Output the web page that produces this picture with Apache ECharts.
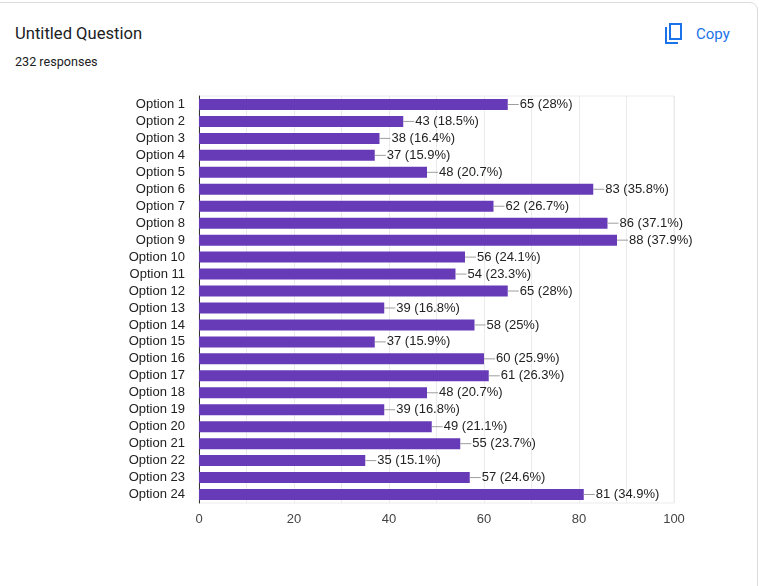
<!DOCTYPE html>
<html><head><meta charset="utf-8">
<script src="https://cdn.jsdelivr.net/npm/echarts@6/dist/echarts.min.js"></script>
<style>
html,body{margin:0;padding:0;width:759px;height:586px;overflow:hidden;background:#fff;}
#card{position:absolute;left:-20px;top:2px;right:1px;bottom:-20px;border:1px solid #dadce0;border-radius:8px;background:#fff;}
#title{position:absolute;left:15px;top:24px;font-family:Roboto,Arial,sans-serif;font-size:16.6px;color:#202124;}
#resp{position:absolute;left:15px;top:54px;font-family:Roboto,Arial,sans-serif;font-size:12.6px;color:#202124;}
#copy{position:absolute;left:665px;top:23px;display:flex;align-items:center;font-family:Roboto,Arial,sans-serif;font-size:15px;color:#1a73e8;}
#copy svg{margin-right:13px;}
#chart{position:absolute;left:0;top:0;width:759px;height:586px;}
</style></head>
<body>
<div id="card"></div>
<div id="title">Untitled Question</div>
<div id="resp">232 responses</div>
<div id="copy"><svg width="18" height="21" viewBox="0 0 18 21"><path d="M1 4 V20 H13" fill="none" stroke="#1a73e8" stroke-width="2"/><rect x="5" y="1" width="11" height="15" fill="none" stroke="#1a73e8" stroke-width="2"/></svg><span>Copy</span></div>
<div id="chart"></div>
<script>
const categories = ["Option 1","Option 2","Option 3","Option 4","Option 5","Option 6","Option 7","Option 8","Option 9","Option 10","Option 11","Option 12","Option 13","Option 14","Option 15","Option 16","Option 17","Option 18","Option 19","Option 20","Option 21","Option 22","Option 23","Option 24"];
const counts = [65,43,38,37,48,83,62,86,88,56,54,65,39,58,37,60,61,48,39,49,55,35,57,81];
const percents = ["28%","18.5%","16.4%","15.9%","20.7%","35.8%","26.7%","37.1%","37.9%","24.1%","23.3%","28%","16.8%","25%","15.9%","25.9%","26.3%","20.7%","16.8%","21.1%","23.7%","15.1%","24.6%","34.9%"];
const xTicks = [0,20,40,60,80,100];

const FONT = 'Arial, Liberation Sans, sans-serif';
const chart = echarts.init(document.getElementById('chart'));
chart.setOption({
  animation:false,
  grid:{left:199,right:85,top:96,bottom:83,show:true,borderColor:'#ebebeb',borderWidth:1,containLabel:false},
  xAxis:{type:'value',min:0,max:100,interval:10,
    axisLine:{show:false},axisTick:{show:false},
    splitLine:{show:true,lineStyle:{color:'#ebebeb',width:1}},
    axisLabel:{margin:10,color:'#444',fontSize:13,fontFamily:FONT,
      formatter:v=>xTicks.indexOf(v)>=0?String(v):''}},
  yAxis:{type:'category',data:categories,inverse:true,
    axisLine:{show:true,lineStyle:{color:'#333',width:1}},axisTick:{show:false},
    axisLabel:{margin:14,color:'#222',fontSize:13,fontFamily:FONT}},
  series:[{type:'bar',data:counts,barWidth:11,itemStyle:{color:'#673ab7'},
    label:{show:true,position:'right',distance:0,
      formatter:p=>'{l|}{t|'+p.value+' ('+percents[p.dataIndex]+')}',
      rich:{l:{width:11,height:1,backgroundColor:'#9e9e9e'},
            t:{color:'#222',fontSize:13,fontFamily:FONT,padding:[0,0,0,1]}}}}]
});
</script>
</body></html>
